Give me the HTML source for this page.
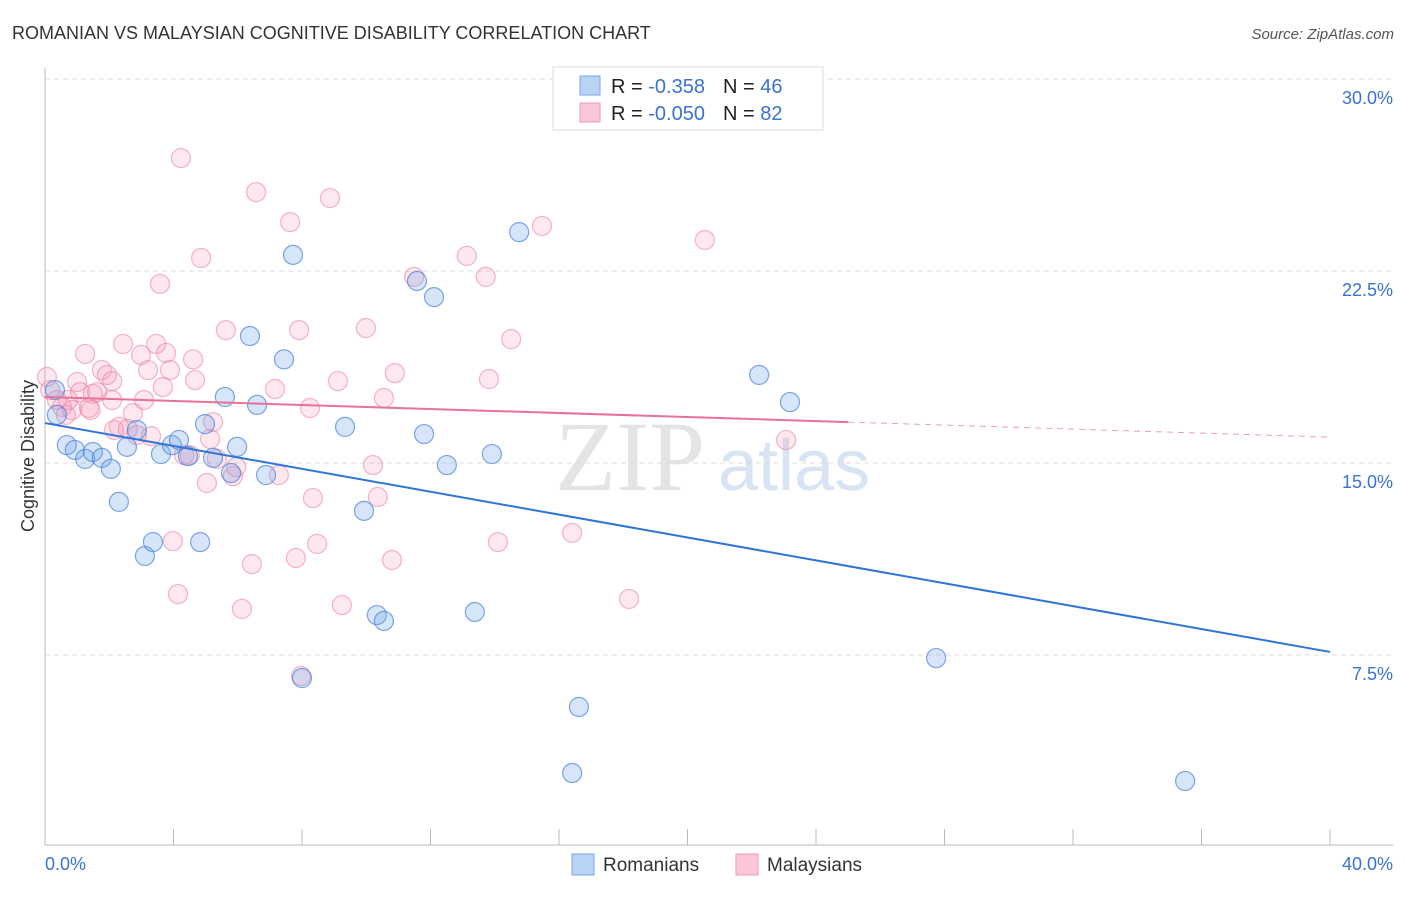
<!DOCTYPE html>
<html><head><meta charset="utf-8"><style>
body{margin:0;background:#fff;font-family:"Liberation Sans",sans-serif}
</style></head><body>
<svg width="1406" height="892" xmlns="http://www.w3.org/2000/svg" font-family="Liberation Sans, sans-serif">
<text x="12" y="39" font-size="18" fill="#333">ROMANIAN VS MALAYSIAN COGNITIVE DISABILITY CORRELATION CHART</text>
<text x="1394" y="39" font-size="15" fill="#555" text-anchor="end" font-style="italic">Source: ZipAtlas.com</text>
<g>
<text x="555" y="490" font-size="100" fill="#e4e4e4" font-family="Liberation Serif, serif">ZIP</text>
<text x="718" y="490" font-size="72" fill="#d8e4f4">atlas</text>
</g>
<g id="grid"></g>
<g id="axes"></g>
<g id="pts"></g>
<g id="lines"></g>
<text transform="translate(34,456) rotate(-90)" font-size="18" fill="#333" text-anchor="middle">Cognitive Disability</text>
<text x="45" y="870" font-size="18" fill="#3a73d0">0.0%</text>
<text x="1393" y="870" font-size="18" fill="#3a73d0" text-anchor="end">40.0%</text>
<g>
<rect x="553" y="67" width="270" height="63" fill="#fff" stroke="#ddd"/>
<rect x="580" y="76" width="20" height="19" fill="#b9d3f5" stroke="#7aa6e6"/>
<rect x="580" y="103" width="20" height="19" fill="#f9c7d6" stroke="#ee9ab4"/>
<text x="611" y="93" font-size="20" fill="#222">R = <tspan fill="#3a73d0"> -0.358</tspan><tspan dx="18">N = </tspan><tspan fill="#3a73d0">46</tspan></text>
<text x="611" y="120" font-size="20" fill="#222">R = <tspan fill="#3a73d0">-0.050</tspan><tspan dx="18">N = </tspan><tspan fill="#3a73d0">82</tspan></text>
</g>
<g>
<rect x="572" y="854" width="22" height="21" fill="#b9d3f5" stroke="#7aa6e6"/>
<text x="603" y="871" font-size="19" fill="#333">Romanians</text>
<rect x="736" y="854" width="22" height="21" fill="#f9c7d6" stroke="#ee9ab4"/>
<text x="767" y="871" font-size="19" fill="#333">Malaysians</text>
</g>
</svg>
<script>
const NS="http://www.w3.org/2000/svg";
const yTicks=[7.5,15,22.5,30];
const yTickLabels=["7.5%","15.0%","22.5%","30.0%"];
const xTicks=[4,8,12,16,20,24,28,32,36,40];
const romX=[0.31,0.37,0.68,0.93,1.25,1.49,1.77,2.05,2.30,2.55,2.86,3.11,3.36,3.61,3.95,4.17,4.45,4.83,4.98,5.23,5.60,5.79,5.98,6.38,6.60,6.88,7.44,7.72,8.00,9.34,9.93,10.33,10.55,11.58,11.80,12.11,12.51,13.38,13.91,14.76,16.41,16.62,22.23,23.19,27.74,35.49];
const romY=[17.85,16.88,15.70,15.51,15.16,15.43,15.20,14.77,13.48,15.63,16.29,11.37,11.91,15.35,15.70,15.90,15.27,11.91,16.52,15.20,17.58,14.61,15.63,19.96,17.27,14.53,19.05,23.13,6.60,16.41,13.13,9.06,8.83,22.11,16.13,21.48,14.92,9.18,15.35,24.02,2.89,5.47,18.44,17.38,7.38,2.58];
const malX=[0.06,0.16,0.37,0.53,0.65,0.84,1.00,1.09,1.25,1.37,1.49,1.62,1.77,1.93,2.09,2.09,2.30,2.43,2.58,2.74,2.86,2.99,3.08,3.21,3.30,3.46,3.58,3.67,3.77,3.89,3.98,4.14,4.23,4.33,4.51,4.61,4.67,4.86,5.04,5.14,5.23,5.35,5.63,5.85,5.95,6.13,6.44,6.57,7.16,7.28,7.63,7.81,7.91,7.97,8.25,8.34,8.47,8.87,9.12,9.24,9.99,10.21,10.36,10.55,10.80,10.89,11.49,13.13,13.72,13.82,14.10,14.51,15.47,16.41,18.18,20.54,23.07,1.42,0.72,2.15];
const malY=[18.36,17.85,17.46,17.19,16.88,17.07,18.16,17.77,19.26,17.15,17.70,17.77,18.63,18.44,18.20,17.46,16.41,19.65,16.33,16.95,16.09,19.22,17.46,18.63,16.05,19.65,22.00,17.97,19.30,18.63,11.95,9.88,26.91,15.31,15.31,19.05,18.24,23.01,14.22,15.94,16.60,15.16,20.19,14.49,14.84,9.30,11.05,25.58,17.89,14.53,24.41,11.29,20.19,6.68,17.15,13.63,11.84,25.35,18.20,9.45,20.27,14.92,13.67,17.54,11.21,18.51,22.27,23.09,22.27,18.28,11.91,19.84,24.26,12.27,9.69,23.71,15.90,17.07,17.46,16.29];
const romLine=[16.56,7.62];
const malLine=[17.58,16.01];
const malSolidEnd=25;
const X=v=>45+v/40*1285, Y=v=>847-v/7.5*192;
function mk(t,a,p){const e=document.createElementNS(NS,t);for(const k in a)e.setAttribute(k,a[k]);p.appendChild(e);return e;}
const grid=document.getElementById('grid'),axes=document.getElementById('axes'),pts=document.getElementById('pts'),lines=document.getElementById('lines');
yTicks.forEach((t,i)=>{
 const g=mk('line',{x1:45,x2:1393,y1:Y(t),y2:Y(t),stroke:'#ddd','stroke-dasharray':'5,4'},grid);
 
 
 const l=mk('text',{x:1393,y:Y(t)+25,'font-size':18,fill:'#3a73d0','text-anchor':'end'},axes);l.textContent=yTickLabels[i];
 
 
});
let a=mk('line',{x1:45,x2:45,y1:68,y2:845,stroke:'#bbb'},axes);


a=mk('line',{x1:45,x2:1393,y1:845,y2:845,stroke:'#bbb'},axes);


xTicks.forEach(t=>{const k=mk('line',{x1:X(t),x2:X(t),y1:829,y2:845,stroke:'#bbb'},axes);
 
 });
malX.forEach((x,i)=>{const c=mk('circle',{cx:X(x),cy:Y(malY[i]),r:9.5,fill:'rgba(244,150,180,0.22)',stroke:'rgba(236,130,165,0.6)','stroke-width':1.2},pts);
 
 });
romX.forEach((x,i)=>{const c=mk('circle',{cx:X(x),cy:Y(romY[i]),r:9.5,fill:'rgba(110,160,235,0.28)',stroke:'rgba(70,130,220,0.7)','stroke-width':1.2},pts);
 
 });
const ml=v=>malLine[0]+(malLine[1]-malLine[0])*v/40;
let l=mk('line',{x1:X(0),y1:Y(romLine[0]),x2:X(40),y2:Y(romLine[1]),stroke:'#2f74d8','stroke-width':2},lines);


l=mk('line',{x1:X(0),y1:Y(ml(0)),x2:X(malSolidEnd),y2:Y(ml(malSolidEnd)),stroke:'#e8709a','stroke-width':2},lines);


l=mk('line',{x1:X(malSolidEnd),y1:Y(ml(malSolidEnd)),x2:X(40),y2:Y(ml(40)),stroke:'#e8a0b8','stroke-width':1,'stroke-dasharray':'6,5'},lines);


</script>
</body></html>
